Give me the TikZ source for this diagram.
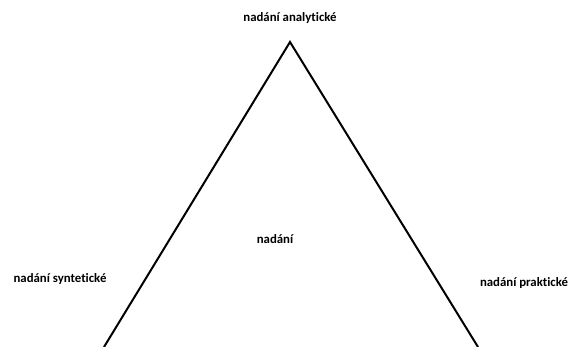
\documentclass[tikz,border=0pt]{standalone}
\usepackage{fontspec}
\setmainfont{Carlito}[Ligatures={NoCommon}]
\usepackage{tikz}
\usetikzlibrary{positioning}

\tikzset{
  label/.style={font=\bfseries\fontsize{12.8}{14}\selectfont, inner sep=0pt},
  side/.style={line width=2pt, line join=miter}
}

\begin{document}
\begin{tikzpicture}[x=1pt, y=-1pt]
        \useasboundingbox (0,0) rectangle (576,347);
        \coordinate (apex) at (290,42);
        \coordinate (left) at (104,347);
        \coordinate (right) at (478,347);

        \node[label] (analytic) at (290,18) {nadání analytické};
        \node[label] (gift) at (275,239) {nadání};
        \node[label] (synthetic) at (60,279) {nadání syntetické};
        \node[label] (practical) at (524,283) {nadání praktické};

        \draw[side] (left) -- (apex) -- (right);
    \end{tikzpicture}
\end{document}
